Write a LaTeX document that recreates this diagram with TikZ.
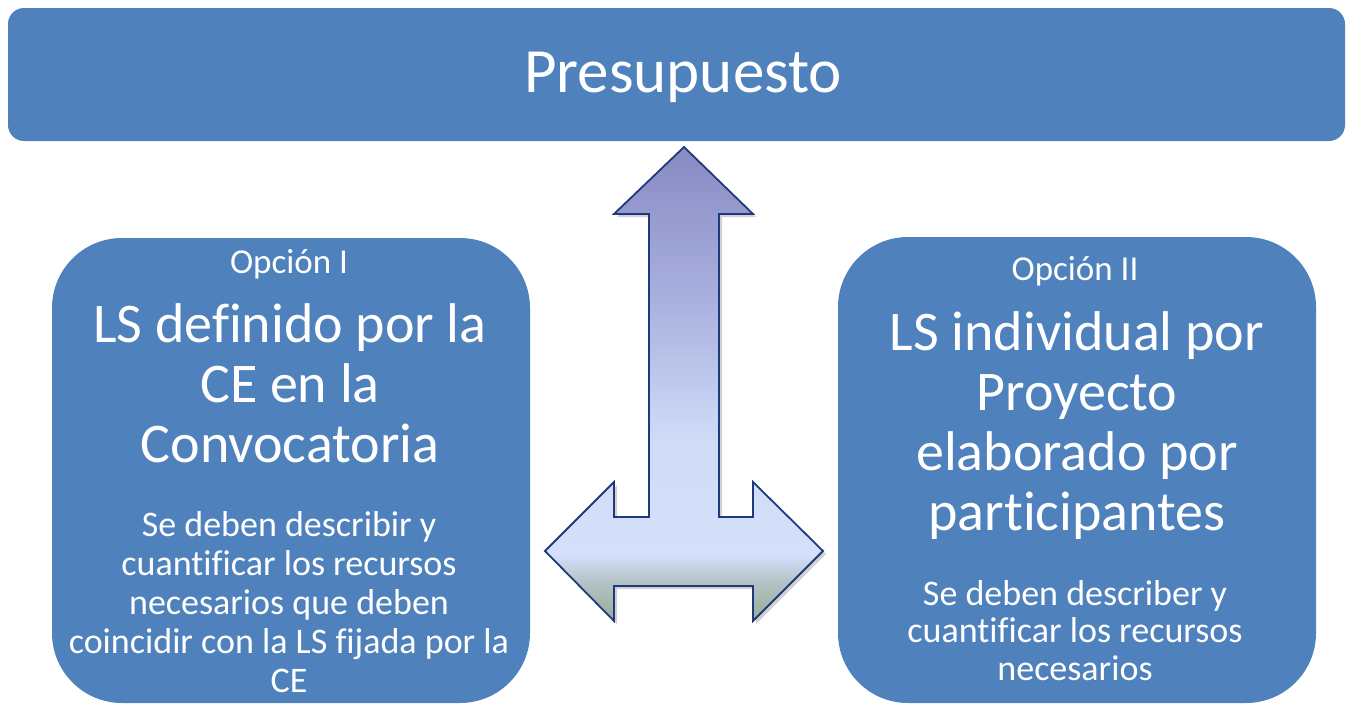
\documentclass[tikz,border=0pt]{standalone}
\usepackage{fontspec}
\setmainfont{Carlito}[Ligatures=CommonOff]
\definecolor{boxblue}{HTML}{4F81BD}
\definecolor{arrline}{HTML}{1F3A7B}
\definecolor{ga}{HTML}{96AC94}
\definecolor{gb}{HTML}{B5C4C9}
\definecolor{gc}{HTML}{D4DFFB}
\definecolor{gd}{HTML}{D0DBF8}
\definecolor{ge}{HTML}{A9B0DE}
\definecolor{gf}{HTML}{888AC3}
\pgfdeclareverticalshading{arrowshade}{100bp}{color(0bp)=(ga); color(25bp)=(ga); color(29.3bp)=(gb); color(32bp)=(gc); color(44bp)=(gd); color(59bp)=(ge); color(75bp)=(gf); color(100bp)=(gf)}
\tikzset{
  bluebox/.style={fill=boxblue, draw=none, inner sep=0pt},
  wtext/.style={text=white, align=center, inner sep=0pt, anchor=base},
  bigtext/.style={wtext, font=\fontsize{56}{60}\selectfont},
  smalltext/.style={wtext, font=\fontsize{36}{38.8}\selectfont},
  opttext/.style={wtext, font=\fontsize{35}{40}\selectfont},
}
\begin{document}
\begin{tikzpicture}[x=1pt,y=-1pt]
\useasboundingbox (0,0) rectangle (1346,704);
% top bar
\node[bluebox, rounded corners=16pt, minimum width=1337pt, minimum height=133pt] (top) at (676.5,74.5) {};
\node[wtext, font=\fontsize{63}{70}\selectfont] (toptext) at (683,92) {Presupuesto};
% option boxes
\node[bluebox, rounded corners=70pt, minimum width=478pt, minimum height=465pt] (left) at (291,470.5) {};
\node[bluebox, rounded corners=70pt, minimum width=478pt, minimum height=466pt] (right) at (1077,470) {};
% arrow shadow
\fill[black, opacity=0.18]
  ([shift={(3,3)}]684,147) -- ([shift={(3,3)}]753,214) -- ([shift={(3,3)}]719,214) -- ([shift={(3,3)}]719,517) -- ([shift={(3,3)}]753,517) -- ([shift={(3,3)}]753,482) -- ([shift={(3,3)}]823,551) -- ([shift={(3,3)}]753,621) -- ([shift={(3,3)}]753,586) -- ([shift={(3,3)}]614,586) -- ([shift={(3,3)}]614,621) -- ([shift={(3,3)}]545,551) -- ([shift={(3,3)}]614,482) -- ([shift={(3,3)}]614,517) -- ([shift={(3,3)}]649,517) -- ([shift={(3,3)}]649,214) -- ([shift={(3,3)}]614,214) -- cycle;
% arrow
\shade[shading=arrowshade, draw=arrline, line width=1.8pt, line join=miter]
  (684,147) -- (753,214) -- (719,214) -- (719,517) -- (753,517) -- (753,482) -- (823,551) -- (753,621) -- (753,586) -- (614,586) -- (614,621) -- (545,551) -- (614,482) -- (614,517) -- (649,517) -- (649,214) -- (614,214) -- cycle;
% left texts (anchor base = last line baseline)
\node[opttext] (lopt) at (289,273) {Opción I};
\node[bigtext] (lbig) at (290,462) {LS definido por la\\CE en la\\Convocatoria};
\node[smalltext] (lsmall) at (289,692) {Se deben describir y\\cuantificar los recursos\\necesarios que deben\\coincidir con la LS fijada por la\\CE};
% right texts
\node[opttext] (ropt) at (1075,280) {Opción II};
\node[bigtext] (rbig) at (1077,530) {LS individual por\\Proyecto\\elaborado por\\participantes};
\node[smalltext, font=\fontsize{36}{37.5}\selectfont] (rsmall) at (1075,680) {Se deben describer y\\cuantificar los recursos\\necesarios};
\end{tikzpicture}
\end{document}
